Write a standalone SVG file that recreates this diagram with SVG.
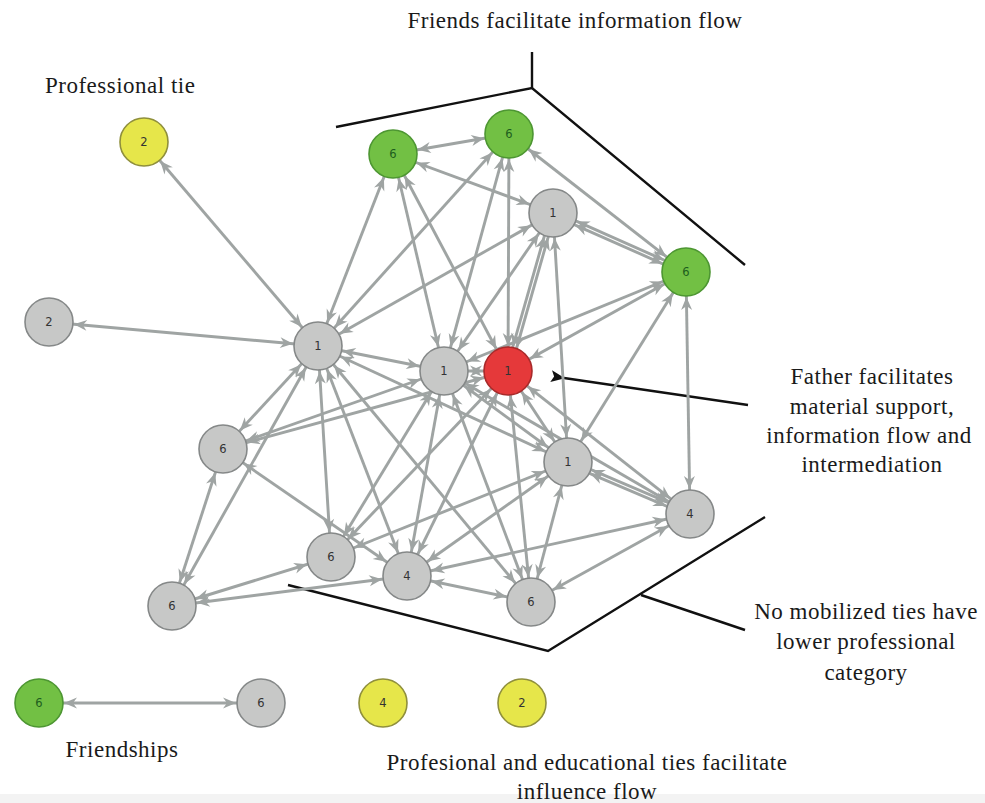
<svg xmlns="http://www.w3.org/2000/svg" width="985" height="803" viewBox="0 0 985 803">
<defs>
<marker id="ah" viewBox="0 -8 40 16" refX="39" refY="0" markerWidth="40" markerHeight="16" markerUnits="userSpaceOnUse" orient="auto-start-reverse" overflow="visible">
<path d="M1,-5.5 L14,0 L1,5.5 L5,0 z" fill="#9fa4a3"/>
</marker>
<marker id="bk" viewBox="0 -6 14 12" refX="1" refY="0" markerWidth="14" markerHeight="12" markerUnits="userSpaceOnUse" orient="auto-start-reverse" overflow="visible">
<path d="M0,0 L14,-6 L11,0 L14,6 z" fill="#111"/>
</marker>
</defs>
<style>
.e{stroke:#9fa4a3;stroke-width:2.9;fill:none}
.ann{stroke:#111;stroke-width:2.4;fill:none}
.gy{fill:#c7c8c7;stroke:#858888;stroke-width:1.6}
.gr{fill:#72c044;stroke:#4d9632;stroke-width:1.6}
.rd{fill:#e5393a;stroke:#a82a2a;stroke-width:1.6}
.yl{fill:#e6e64a;stroke:#8f8f3c;stroke-width:1.6}
.n{font-family:"DejaVu Sans",sans-serif;font-size:11.5px;fill:#333;text-anchor:middle;dominant-baseline:central}
.ng{fill:#1e5e1e}
.t{font-family:"Liberation Serif",serif;font-size:23px;letter-spacing:0.5px;fill:#1a1a1a;text-anchor:middle}
</style>
<rect x="0" y="0" width="985" height="803" fill="#fff"/>
<rect x="0" y="794" width="985" height="9" fill="#f3f3f3"/>

<g id="annotations">
<polyline class="ann" points="336,127 532,88 745,265"/>
<line class="ann" x1="532" y1="88" x2="532" y2="52"/>
<polyline class="ann" points="288,585 548,651 765,517"/>
<line class="ann" x1="641" y1="595" x2="745" y2="630"/>
<line class="ann" x1="748" y1="405" x2="564" y2="378" marker-end="url(#bk)"/>
</g>

<g id="connectors" marker-start="url(#ah)" marker-end="url(#ah)">
<line class="e" x1="144" y1="142" x2="318" y2="346"/>
<line class="e" x1="49" y1="322" x2="318" y2="346"/>
<line class="e" x1="393" y1="154" x2="509" y2="134"/>
<line class="e" x1="393" y1="154" x2="318" y2="346"/>
<line class="e" x1="393" y1="154" x2="444" y2="371"/>
<line class="e" x1="393" y1="154" x2="508" y2="371"/>
<line class="e" x1="553" y1="213" x2="393" y2="154"/>
<line class="e" x1="509" y1="134" x2="318" y2="346"/>
<line class="e" x1="509" y1="134" x2="444" y2="371"/>
<line class="e" x1="509" y1="134" x2="508" y2="371"/>
<line class="e" x1="509" y1="134" x2="686" y2="272"/>
<line class="e" x1="553" y1="213" x2="318" y2="346"/>
<line class="e" x1="553" y1="213" x2="444" y2="371"/>
<line class="e" x1="554.9" y1="213.5" x2="509.9" y2="371.5"/>
<line class="e" x1="551.1" y1="212.5" x2="506.1" y2="370.5"/>
<line class="e" x1="553" y1="213" x2="568" y2="462"/>
<line class="e" x1="552.2" y1="214.8" x2="685.2" y2="273.8"/>
<line class="e" x1="553.8" y1="211.2" x2="686.8" y2="270.2"/>
<line class="e" x1="686" y1="272" x2="444" y2="371"/>
<line class="e" x1="686" y1="272" x2="508" y2="371"/>
<line class="e" x1="686" y1="272" x2="568" y2="462"/>
<line class="e" x1="686" y1="272" x2="690" y2="514"/>
<line class="e" x1="318" y1="346" x2="444" y2="371"/>
<line class="e" x1="444" y1="371" x2="508" y2="371"/>
<line class="e" x1="318" y1="346" x2="223" y2="449"/>
<line class="e" x1="318" y1="346" x2="172" y2="606"/>
<line class="e" x1="318" y1="346" x2="331" y2="557"/>
<line class="e" x1="318" y1="346" x2="407" y2="576"/>
<line class="e" x1="318" y1="346" x2="531" y2="602"/>
<line class="e" x1="318" y1="346" x2="568" y2="462"/>
<line class="e" x1="223" y1="449" x2="444" y2="371"/>
<line class="e" x1="223" y1="449" x2="508" y2="371"/>
<line class="e" x1="223" y1="449" x2="407" y2="576"/>
<line class="e" x1="223" y1="449" x2="172" y2="606"/>
<line class="e" x1="172" y1="606" x2="331" y2="557"/>
<line class="e" x1="172" y1="606" x2="407" y2="576"/>
<line class="e" x1="331" y1="557" x2="444" y2="371"/>
<line class="e" x1="331" y1="557" x2="508" y2="371"/>
<line class="e" x1="331" y1="557" x2="568" y2="462"/>
<line class="e" x1="407" y1="576" x2="444" y2="371"/>
<line class="e" x1="407" y1="576" x2="508" y2="371"/>
<line class="e" x1="407" y1="576" x2="568" y2="462"/>
<line class="e" x1="407" y1="576" x2="690" y2="514"/>
<line class="e" x1="407" y1="576" x2="531" y2="602"/>
<line class="e" x1="531" y1="602" x2="444" y2="371"/>
<line class="e" x1="531" y1="602" x2="508" y2="371"/>
<line class="e" x1="531" y1="602" x2="568" y2="462"/>
<line class="e" x1="531" y1="602" x2="690" y2="514"/>
<line class="e" x1="568" y1="462" x2="444" y2="371"/>
<line class="e" x1="568" y1="462" x2="508" y2="371"/>
<line class="e" x1="567.2" y1="463.8" x2="689.2" y2="515.8"/>
<line class="e" x1="568.8" y1="460.2" x2="690.8" y2="512.2"/>
<line class="e" x1="690" y1="514" x2="444" y2="371"/>
<line class="e" x1="690" y1="514" x2="508" y2="371"/>
<line class="e" x1="39" y1="703" x2="261" y2="703"/>
</g>

<g id="nA"><circle class="yl" cx="144" cy="142" r="24"/><text class="n" x="144" y="142">2</text></g>
<g id="nB"><circle class="gy" cx="49" cy="322" r="24"/><text class="n" x="49" y="322">2</text></g>
<g id="nC"><circle class="gy" cx="318" cy="346" r="24"/><text class="n" x="318" y="346">1</text></g>
<g id="nD"><circle class="gr" cx="393" cy="154" r="24"/><text class="n ng" x="393" y="154">6</text></g>
<g id="nE"><circle class="gr" cx="509" cy="134" r="24"/><text class="n ng" x="509" y="134">6</text></g>
<g id="nF"><circle class="gy" cx="553" cy="213" r="24"/><text class="n" x="553" y="213">1</text></g>
<g id="nG"><circle class="gr" cx="686" cy="272" r="24"/><text class="n ng" x="686" y="272">6</text></g>
<g id="nH"><circle class="gy" cx="444" cy="371" r="24"/><text class="n" x="444" y="371">1</text></g>
<g id="nR"><circle class="rd" cx="508" cy="371" r="24"/><text class="n" x="508" y="371">1</text></g>
<g id="nI"><circle class="gy" cx="223" cy="449" r="24"/><text class="n" x="223" y="449">6</text></g>
<g id="nJ"><circle class="gy" cx="568" cy="462" r="24"/><text class="n" x="568" y="462">1</text></g>
<g id="nK"><circle class="gy" cx="690" cy="514" r="24"/><text class="n" x="690" y="514">4</text></g>
<g id="nL"><circle class="gy" cx="331" cy="557" r="24"/><text class="n" x="331" y="557">6</text></g>
<g id="nM"><circle class="gy" cx="407" cy="576" r="24"/><text class="n" x="407" y="576">4</text></g>
<g id="nN"><circle class="gy" cx="531" cy="602" r="24"/><text class="n" x="531" y="602">6</text></g>
<g id="nO"><circle class="gy" cx="172" cy="606" r="24"/><text class="n" x="172" y="606">6</text></g>

<g id="legend-green"><circle class="gr" cx="39" cy="703" r="24"/><text class="n ng" x="39" y="703">6</text></g>
<g id="legend-gray"><circle class="gy" cx="261" cy="703" r="24"/><text class="n" x="261" y="703">6</text></g>
<g id="legend-yellow4"><circle class="yl" cx="383" cy="703" r="24"/><text class="n" x="383" y="703">4</text></g>
<g id="legend-yellow2"><circle class="yl" cx="522" cy="703" r="24"/><text class="n" x="522" y="703">2</text></g>

<g id="labels">
<text class="t" x="575" y="28">Friends facilitate information flow</text>
<text class="t" x="45" y="93" style="text-anchor:start">Professional tie</text>
<text class="t" x="872" y="384">Father facilitates</text>
<text class="t" x="872" y="414">material support,</text>
<text class="t" x="869" y="443">information flow and</text>
<text class="t" x="872" y="472">intermediation</text>
<text class="t" x="866" y="619">No mobilized ties have</text>
<text class="t" x="866" y="649">lower professional</text>
<text class="t" x="866" y="680">category</text>
<text class="t" x="122" y="757">Friendships</text>
<text class="t" x="587" y="770">Profesional and educational ties facilitate</text>
<text class="t" x="587" y="799">influence flow</text>
</g>
</svg>
